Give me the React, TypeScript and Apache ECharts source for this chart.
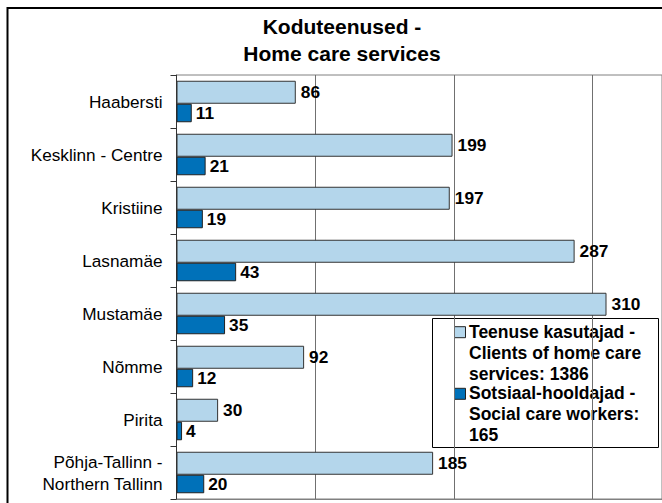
import React, { useEffect, useRef } from "react";
import * as echarts from "echarts";

const categories = [
  "Haabersti",
  "Kesklinn - Centre",
  "Kristiine",
  "Lasnamäe",
  "Mustamäe",
  "Nõmme",
  "Pirita",
  "Põhja-Tallinn -\nNorthern Tallinn",
];
const clients = [86, 199, 197, 287, 310, 92, 30, 185];
const workers = [11, 21, 19, 43, 35, 12, 4, 20];
const seriesNames = [
  "Teenuse kasutajad - Clients of home care services: 1386",
  "Sotsiaal-hooldajad - Social care workers: 165",
];
const legendLines = [
  ["Teenuse kasutajad -", "Clients of home care", "services: 1386"],
  ["Sotsiaal-hooldajad -", "Social care workers:", "165"],
];
const titleLines = ["Koduteenused -", "Home care services"];
const xMin = 0;
const xMax = 350;
const xInterval = 100;

const colors = ["#B4D6EB", "#0071B9"];
const FONT = '"Liberation Sans", Arial, Helvetica, sans-serif';

export default function App() {
  const ref = useRef<HTMLDivElement>(null);
  useEffect(() => {
    if (!ref.current) return;
    const chart = echarts.init(ref.current, null, { renderer: "svg" });
    const legendItems: any[] = [];
    const itemTop = [321.2, 382.8];
    legendLines.forEach((lines, i) => {
      legendItems.push({
        type: "rect",
        shape: { x: 454.5, y: itemTop[i] + 5.5, width: 11, height: 11 },
        style: { fill: colors[i], stroke: "#222", lineWidth: 1 },
      });
      legendItems.push({
        type: "text",
        x: 469,
        y: itemTop[i],
        style: {
          text: lines.join("\n"),
          font: `bold 17.5px ${FONT}`,
          lineHeight: 21,
          fill: "#000",
          textVerticalAlign: "top",
          verticalAlign: "top",
        },
      });
    });
    chart.setOption({
      animation: false,
      backgroundColor: "#fff",
      textStyle: { fontFamily: FONT },
      grid: {
        left: 176.5,
        right: -3,
        top: 75,
        bottom: 4,
        show: true,
        borderColor: "#808080",
        borderWidth: 1,
        containLabel: false,
      },
      xAxis: {
        type: "value",
        min: xMin,
        max: xMax,
        interval: xInterval,
        axisLabel: { show: false },
        axisTick: { show: false },
        axisLine: { show: true, lineStyle: { color: "#808080", width: 1 } },
        splitLine: { show: true, lineStyle: { color: "#707070", width: 1 } },
      },
      yAxis: {
        type: "category",
        data: categories,
        inverse: true,
        axisLine: { show: true, lineStyle: { color: "#333", width: 1 } },
        axisTick: { show: true, inside: false, length: 6, lineStyle: { color: "#333" } },
        axisLabel: {
          color: "#000",
          fontSize: 17.2,
          fontFamily: FONT,
          margin: 14,
          lineHeight: 22,
          align: "right",
        },
      },
      series: [
        {
          name: seriesNames[0],
          type: "bar",
          data: clients,
          barWidth: 23,
          barGap: "0%",
          itemStyle: { color: colors[0], borderColor: "#333", borderWidth: 1 },
          label: {
            show: true,
            position: "right",
            distance: 5,
            color: "#000",
            fontWeight: "bold",
            fontSize: 17.3,
            fontFamily: FONT,
          },
        },
        {
          name: seriesNames[1],
          type: "bar",
          data: workers,
          barWidth: 18.5,
          barGap: "0%",
          itemStyle: { color: colors[1], borderColor: "#222", borderWidth: 1 },
          label: {
            show: true,
            position: "right",
            distance: 4,
            color: "#000",
            fontWeight: "bold",
            fontSize: 17.3,
            fontFamily: FONT,
          },
        },
      ],
      graphic: [
        {
          type: "rect",
          z: 100,
          shape: { x: 7.5, y: 8, width: 700, height: 600 },
          style: { fill: "none", stroke: "#000", lineWidth: 2 },
          silent: true,
        },
        {
          type: "text",
          z: 100,
          x: 342,
          y: 13.2,
          style: {
            text: titleLines.join("\n"),
            font: `bold 21px ${FONT}`,
            lineHeight: 26.7,
            fill: "#000",
            align: "center",
            textAlign: "center",
            verticalAlign: "top",
            textVerticalAlign: "top",
          },
        },
        {
          type: "group",
          z: 100,
          children: [
            {
              type: "rect",
              shape: { x: 432.5, y: 318.5, width: 226, height: 129 },
              style: { fill: "#fff", stroke: "#000", lineWidth: 1 },
            },
            ...legendItems,
          ],
        },
      ],
    });
    return () => chart.dispose();
  }, []);
  return (
    <div
      ref={ref}
      style={{ position: "fixed", left: 0, top: 0, width: 662, height: 503 }}
    />
  );
}
